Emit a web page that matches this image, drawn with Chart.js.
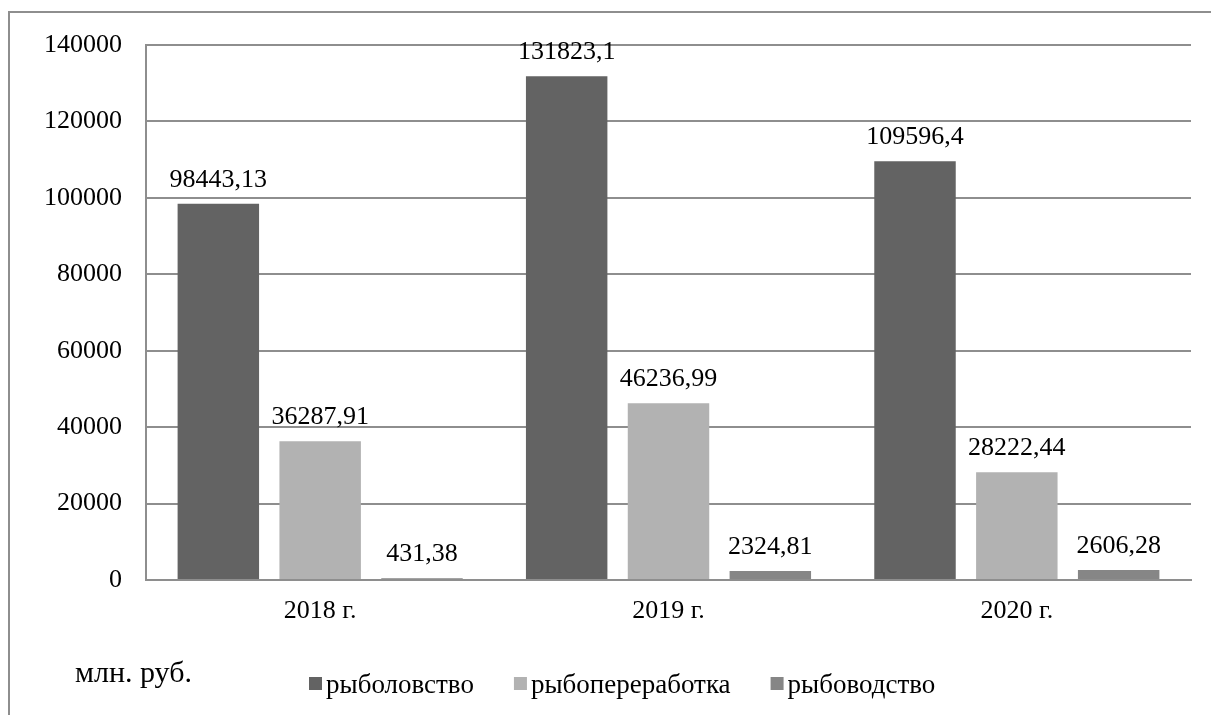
<!DOCTYPE html>
<html>
<head>
<meta charset="utf-8">
<script src="https://cdn.jsdelivr.net/npm/chart.js@4"></script>
<style>
  body { margin: 0; background: #fff; }
  #wrap { width: 1211px; height: 715px; }
</style>
</head>
<body>
<div id="wrap"><canvas id="chart"></canvas></div>
<script>
const years = ['2018 г.', '2019 г.', '2020 г.'];
const seriesNames = ['рыболовство', 'рыбопереработка', 'рыбоводство'];
const fishing = [98443.13, 131823.1, 109596.4];
const processing = [36287.91, 46236.99, 28222.44];
const farming = [431.38, 2324.81, 2606.28];
const seriesColors = ['#636363', '#b2b2b2', '#868686'];
const unitLabel = 'млн. руб.';

const serif = '"Liberation Serif", "Times New Roman", serif';
const gridColor = '#8e8e8e';

// labels over bars, outer frame, unit text and legend
const extras = {
    id: 'extras',
    afterDatasetsDraw(chart) {
        const ctx = chart.ctx;
        ctx.save();
        ctx.font = '26px ' + serif;
        ctx.fillStyle = '#000';
        ctx.textAlign = 'center';
        ctx.textBaseline = 'alphabetic';
        chart.data.datasets.forEach((ds, i) => {
            chart.getDatasetMeta(i).data.forEach((bar, j) => {
                const txt = String(ds.data[j]).replace('.', ',');
                ctx.fillText(txt, bar.x, bar.y - 17);
            });
        });
        ctx.restore();
    },
    afterDraw(chart) {
        const ctx = chart.ctx;
        ctx.save();
        // frame (cut off on the right and at the bottom)
        ctx.strokeStyle = gridColor;
        ctx.lineWidth = 2;
        ctx.beginPath();
        ctx.moveTo(9, 715);
        ctx.lineTo(9, 12);
        ctx.lineTo(1211, 12);
        ctx.stroke();

        ctx.fillStyle = '#000';
        ctx.textBaseline = 'middle';
        ctx.font = '30px ' + serif;
        ctx.fillText(unitLabel, 75, 674);

        // legend
        ctx.font = '27px ' + serif;
        let x = 309;
        chart.data.datasets.forEach((ds) => {
            ctx.fillStyle = ds.backgroundColor;
            ctx.fillRect(x, 677, 13, 13);
            ctx.fillStyle = '#000';
            ctx.fillText(ds.label, x + 17, 686);
            x += 17 + ctx.measureText(ds.label).width + 40;
        });
        ctx.restore();
    }
};

new Chart(document.getElementById('chart'), {
    type: 'bar',
    data: {
        labels: years,
        datasets: [
            { label: seriesNames[0], data: fishing, backgroundColor: seriesColors[0] },
            { label: seriesNames[1], data: processing, backgroundColor: seriesColors[1] },
            { label: seriesNames[2], data: farming, backgroundColor: seriesColors[2] }
        ]
    },
    options: {
        responsive: true,
        maintainAspectRatio: false,
        animation: false,
        layout: { padding: { top: 45, right: 20, bottom: 0, left: 0 } },
        datasets: { bar: { categoryPercentage: 0.877, barPercentage: 0.8 } },
        plugins: {
            legend: { display: false },
            tooltip: { enabled: false }
        },
        scales: {
            x: {
                afterFit(scale) { scale.height = 135; },
                grid: { display: false, drawTicks: false },
                border: { display: true, color: gridColor, width: 2 },
                ticks: { color: '#000', padding: 16, font: { family: serif, size: 26 } }
            },
            y: {
                min: 0,
                max: 140000,
                afterFit(scale) { scale.width = 146; },
                grid: { color: gridColor, lineWidth: 2, drawTicks: false },
                border: { display: true, color: gridColor, width: 2 },
                ticks: {
                    stepSize: 20000,
                    color: '#000',
                    padding: 24,
                    font: { family: serif, size: 26 },
                    callback: (v) => String(v)
                }
            }
        }
    },
    plugins: [extras]
});
</script>
</body>
</html>
